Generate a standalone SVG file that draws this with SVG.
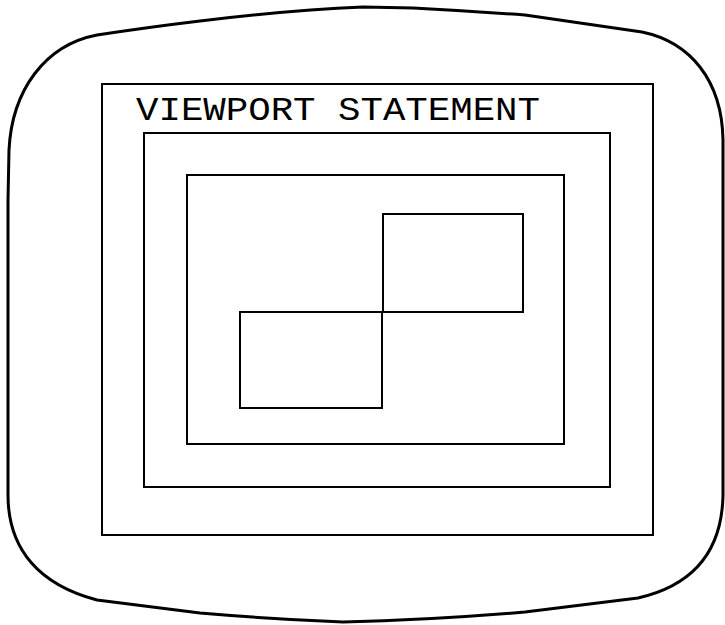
<svg xmlns="http://www.w3.org/2000/svg" width="725" height="625" viewBox="0 0 725 625">
<style>
.bezel{fill:none;stroke:#000;stroke-width:3;stroke-linejoin:round}
.box{fill:none;stroke:#000;stroke-width:2}
.lbl{font-family:"Liberation Mono","DejaVu Sans Mono",monospace;font-size:33px;fill:#000}
</style>
<rect width="725" height="625" fill="#fff"/>
<g id="screen">
<path class="bezel" d="M97,35 Q150,27 200,21 Q290,10 363,7 L413,8 Q470,11 525,15 L642,32 C690,42 722,80 723,140 L723,495 C722,550 695,585 638,598 L525,612 Q430,620 343,622 Q270,619 200,613 L97,600 C40,585 8,550 8,495 L8,200 L9,150 C12,90 45,45 97,35 Z"/>
</g>
<g id="viewport-outer">
<rect class="box" x="102" y="84" width="551" height="451"/>
<text class="lbl" x="136" y="120" textLength="404" lengthAdjust="spacingAndGlyphs">VIEWPORT STATEMENT</text>
</g>
<g id="viewport-middle"><rect class="box" x="144" y="133" width="466" height="354"/></g>
<g id="viewport-inner"><rect class="box" x="187" y="175" width="377" height="269"/></g>
<g id="rect-upper"><rect class="box" x="383" y="214" width="140" height="98"/></g>
<g id="rect-lower"><rect class="box" x="240" y="312" width="142" height="96"/></g>
</svg>
